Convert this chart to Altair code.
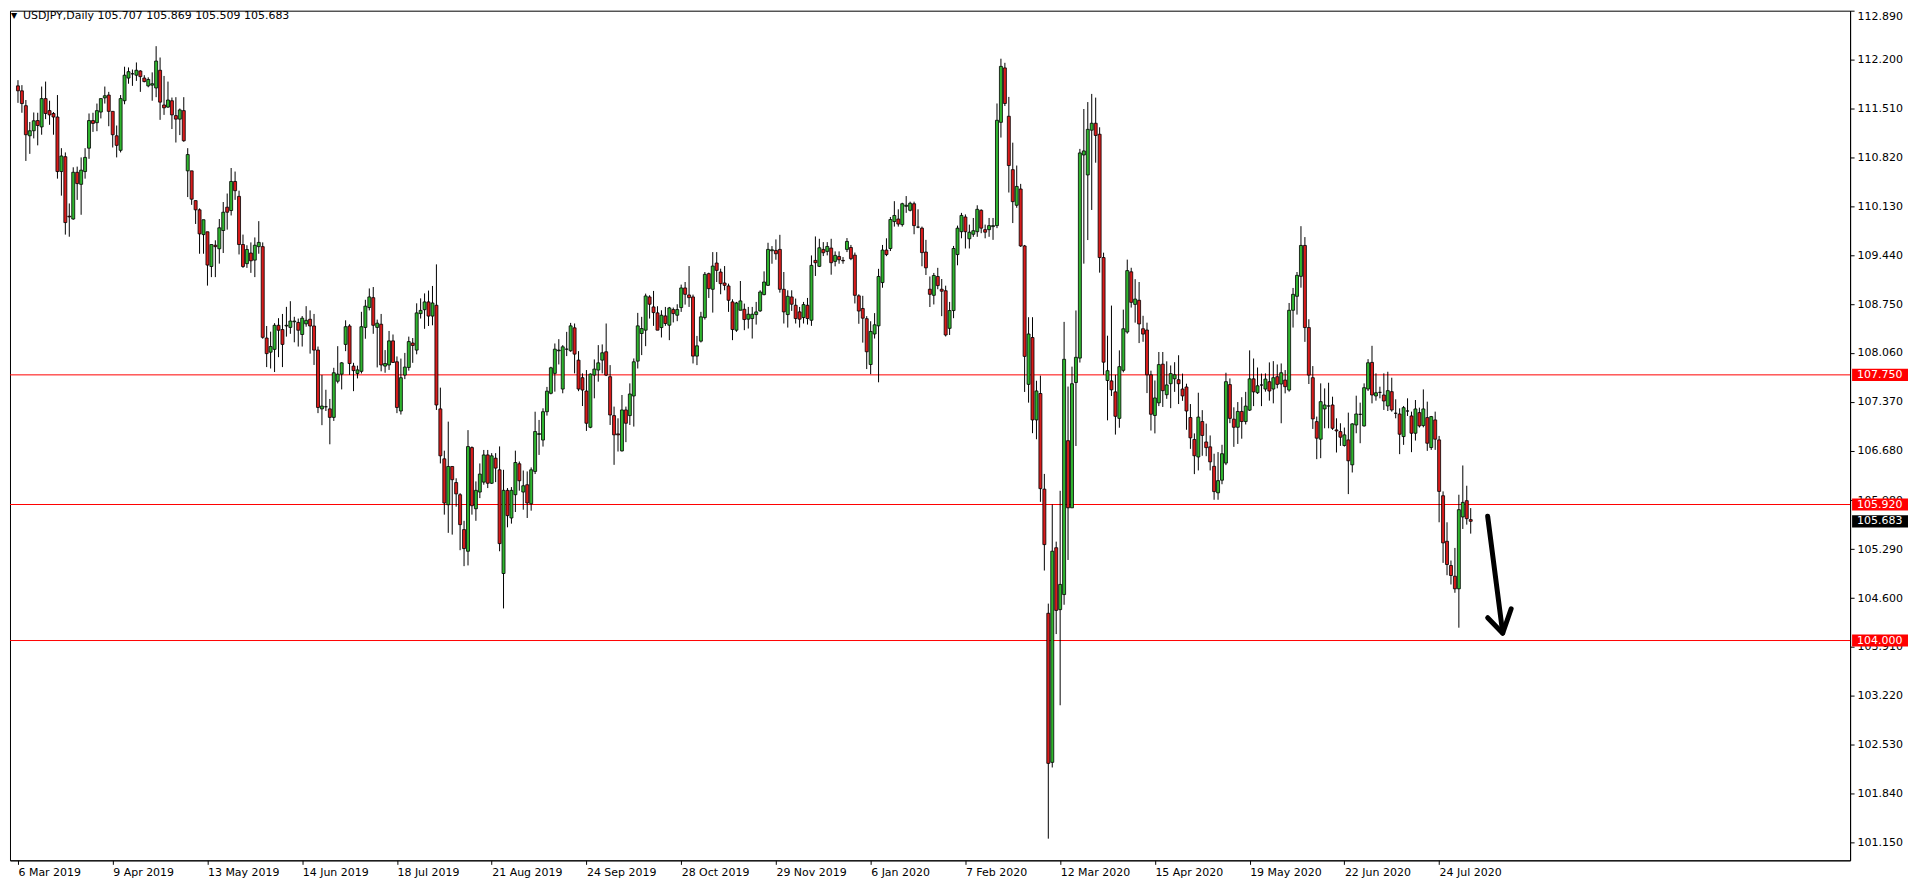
import altair as alt
import pandas as pd
import numpy as np

OPEN = [111.83,111.76,111.55,111.125,111.196,111.34,111.25,111.65,111.48,111.44,111.39,110.62,110.83,109.99,109.95,110.61,110.44,110.62,110.95,111.34,
111.31,111.46,111.66,111.70,111.47,111.125,110.92,111.62,111.94,112.00,111.98,112.04,111.94,111.83,111.84,111.80,112.05,111.56,111.53,111.62,
111.41,111.36,111.48,110.63,110.63,110.21,110.08,109.73,109.77,109.28,109.58,109.53,109.788,110.117,110.07,110.48,110.27,109.59,109.32,109.47,
109.37,109.56,109.56,108.27,108.07,108.11,108.45,108.39,108.44,108.42,108.50,108.49,108.32,108.47,108.535,108.44,108.10,107.27,107.30,107.27,
107.15,107.66,107.76,108.18,108.44,107.874,107.77,107.80,108.42,108.70,108.84,108.42,108.465,107.874,107.89,108.23,107.935,107.24,107.747,107.855,
108.20,108.10,108.615,108.67,108.78,108.58,108.733,107.27,106.565,105.917,106.457,106.23,106.058,105.566,105.26,106.724,105.86,106.096,106.236,106.62,
106.22,106.574,106.41,104.946,106.12,105.73,106.058,106.495,106.096,106.199,105.93,106.387,106.91,106.83,107.23,107.49,107.771,108.09,107.55,108.113,
108.09,108.414,107.958,107.71,107.522,107.01,107.747,107.818,107.958,108.076,107.724,107.175,106.917,106.677,107.255,107.175,107.452,107.944,108.334,108.381,
108.85,108.709,108.625,108.418,108.582,108.451,108.672,108.592,108.70,108.977,108.878,108.85,108.015,108.226,108.559,109.179,108.958,109.329,109.202,109.047,
109.005,108.78,108.381,108.662,108.676,108.536,108.545,108.601,108.653,108.883,109.014,109.502,109.507,109.521,108.958,108.601,108.85,108.733,108.639,108.559,
108.733,108.521,109.366,109.282,109.521,109.493,109.54,109.352,109.422,109.366,109.521,109.548,109.44,108.866,108.687,108.543,107.896,108.327,108.442,109.053,
109.512,109.534,109.914,109.95,109.871,110.13,110.073,110.166,109.836,109.821,109.484,108.959,108.873,109.139,108.959,108.938,108.407,108.658,109.448,109.771,
109.979,109.671,109.735,109.771,110.073,109.8,109.8,109.843,109.857,111.315,112.083,111.401,110.647,110.144,110.374,109.57,107.616,108.277,107.114,107.487,
106.137,104.385,102.28,105.31,104.436,104.649,106.821,105.873,107.642,107.987,110.854,110.572,111.204,111.302,111.147,109.406,107.671,107.665,107.51,107.136,
107.814,108.355,109.205,108.745,108.803,108.401,108.383,107.751,107.177,107.355,107.901,107.47,107.625,107.694,107.682,107.55,107.579,107.148,106.838,106.591,
107.091,106.803,106.734,106.459,106.085,106.263,106.505,107.613,107.125,107.01,107.234,107.091,107.252,107.694,107.498,107.607,107.55,107.653,107.55,107.724,
107.621,107.677,107.536,108.662,108.859,109.141,109.577,108.418,107.71,107.09,106.842,107.269,107.311,107.325,106.973,106.949,106.753,106.832,106.48,107.043,
107.193,107.029,107.55,107.926,107.452,107.503,107.466,107.311,107.513,107.208,107.198,106.879,107.24,107.17,106.926,107.217,107.034,107.147,106.724,107.114,
106.832,106.044,105.401,105.059,104.908,104.73,105.744,105.974,105.707]

HIGH = [111.91,111.84,111.63,111.32,111.454,111.45,111.82,111.89,111.62,111.46,111.70,110.95,110.89,110.17,110.68,110.69,110.82,110.95,111.44,111.45,
111.58,111.65,111.82,111.745,111.47,111.27,111.70,112.10,112.09,112.06,112.16,112.05,111.98,111.95,112.02,112.39,112.23,111.97,111.89,111.665,
111.67,111.51,111.67,110.95,110.63,110.21,110.10,109.94,109.77,109.59,109.65,109.95,110.19,110.31,110.67,110.62,110.35,109.73,109.58,109.62,
109.69,109.92,109.62,108.44,108.36,108.48,108.55,108.61,108.71,108.79,108.57,108.545,108.58,108.72,108.66,108.61,108.15,107.75,107.54,107.41,
107.85,108.155,107.93,108.52,108.465,107.92,107.88,108.64,108.81,108.97,108.99,108.53,108.61,108.10,108.37,108.32,108.01,107.98,108.06,108.29,
108.27,108.76,108.83,108.90,108.94,109.005,109.31,107.57,106.68,107.09,106.457,106.29,106.08,105.69,106.97,106.74,106.246,106.50,106.69,106.69,
106.645,106.645,106.74,106.41,106.152,106.166,106.68,106.527,106.40,106.387,106.443,107.23,107.114,107.278,107.58,107.864,108.193,108.254,108.17,108.357,
108.484,108.475,108.085,107.771,107.818,107.771,107.968,108.17,108.18,108.475,107.888,107.302,107.137,107.466,107.302,107.63,107.982,108.625,108.569,108.897,
108.874,108.935,108.719,108.662,108.709,108.709,108.70,108.747,109.024,109.061,109.286,108.883,108.30,108.64,109.202,109.193,109.483,109.483,109.249,109.286,
109.038,108.817,108.78,109.075,108.756,108.709,108.709,108.78,108.944,109.211,109.615,109.568,109.662,109.727,109.202,108.944,108.944,108.827,108.709,108.78,
108.836,109.436,109.704,109.671,109.624,109.624,109.671,109.493,109.493,109.413,109.681,109.584,109.477,108.888,108.866,108.579,108.507,108.622,109.247,109.584,
109.678,109.979,110.202,110.087,110.18,110.274,110.195,110.195,110.087,109.843,109.656,109.139,109.189,109.261,109.103,109.009,108.78,109.57,109.857,110.037,
110.015,109.871,109.965,110.144,110.087,109.871,109.965,109.965,111.581,112.213,112.155,111.674,111.028,110.705,110.446,109.584,108.564,108.564,107.667,107.739,
106.352,104.521,105.921,105.396,106.114,108.498,107.585,107.866,108.659,110.94,111.503,111.601,111.716,111.664,111.245,109.475,108.303,108.728,107.751,108.096,
108.671,109.377,109.262,109.101,109.061,108.584,108.487,107.809,107.671,108.073,108.073,107.941,107.883,107.929,108.027,107.768,107.625,107.338,106.924,107.498,
107.252,107.062,106.895,106.637,106.66,106.763,107.78,107.7,107.292,107.366,107.435,107.51,108.096,107.981,107.854,107.768,107.771,107.926,107.944,107.897,
107.911,107.818,108.765,108.977,109.202,109.849,109.695,108.535,107.874,107.161,107.63,107.559,107.639,107.442,107.137,107.067,107.006,107.217,107.067,107.456,
107.358,107.63,107.972,108.16,107.771,107.583,107.771,107.794,107.71,107.405,107.278,107.311,107.419,107.231,107.395,107.287,107.545,107.372,107.17,107.231,
106.888,106.105,105.669,105.129,105.307,106.058,106.471,106.185,105.869]

LOW = [111.59,111.45,110.77,110.87,111.088,110.99,111.14,111.36,111.28,111.14,110.52,110.28,109.73,109.70,109.94,110.22,110.01,110.52,110.80,111.18,
111.19,111.37,111.58,111.26,110.96,110.82,110.89,111.57,111.86,111.83,111.90,111.745,111.88,111.81,111.62,111.67,111.35,111.42,111.52,111.22,
111.03,111.135,111.04,110.26,110.15,109.88,109.46,109.46,109.01,109.13,109.13,109.32,109.47,109.80,110.00,110.22,109.45,109.26,109.26,109.19,
109.13,109.46,108.26,107.86,107.84,107.79,108.00,107.86,108.29,108.33,108.21,108.15,108.15,108.43,108.05,107.89,107.21,107.04,107.24,106.77,
107.10,107.63,107.545,108.085,107.75,107.52,107.70,107.77,108.26,108.66,108.33,107.855,107.80,107.78,107.82,107.92,107.21,107.19,107.69,107.81,
107.92,108.04,108.545,108.40,108.44,108.45,107.255,106.50,105.777,105.52,105.495,105.89,105.275,105.05,105.06,105.777,105.69,106.01,106.20,106.152,
106.21,106.236,105.26,104.453,105.598,105.65,105.814,106.115,105.847,105.73,105.833,106.35,106.62,106.738,107.175,107.475,107.513,107.897,107.49,108.015,
108.076,107.771,107.52,107.31,106.959,106.997,107.419,107.654,107.771,107.733,107.043,106.48,106.668,106.668,106.80,107.043,107.02,107.84,108.029,108.155,
108.545,108.442,108.381,108.278,108.442,108.24,108.49,108.508,108.639,108.742,108.709,107.911,107.888,108.207,108.531,108.836,108.629,109.061,108.888,108.944,
108.639,108.24,108.357,108.662,108.381,108.404,108.263,108.46,108.639,108.873,109.005,109.319,109.375,108.911,108.475,108.418,108.653,108.475,108.418,108.475,
108.46,108.442,109.146,109.272,109.427,109.437,109.164,109.282,109.319,109.319,109.483,109.369,108.758,108.471,108.205,107.832,107.76,108.263,107.645,108.98,
109.426,109.498,109.843,109.843,109.843,110.037,110.058,109.735,109.821,109.283,109.16,108.708,108.744,108.959,108.579,108.292,108.313,108.55,109.297,109.678,
109.534,109.534,109.699,109.699,109.75,109.678,109.699,109.656,109.821,111.1,111.545,110.324,109.893,110.109,109.556,107.509,107.358,106.927,106.841,105.958,
104.988,101.203,102.208,104.091,103.086,104.505,105.137,105.873,106.746,107.924,109.32,109.653,110.078,110.745,109.193,107.751,107.108,107.452,106.907,107.004,
107.786,108.332,108.7,108.487,108.199,108.217,107.493,106.964,106.924,107.309,107.297,107.412,107.28,107.51,107.338,107.384,106.975,106.706,106.349,106.401,
106.608,106.602,106.401,105.987,105.987,106.206,106.476,107.068,106.734,106.775,106.849,107.05,107.24,107.309,107.481,107.309,107.513,107.386,107.348,107.56,
107.067,107.489,107.513,108.418,108.601,108.981,108.216,107.621,106.987,106.56,106.574,106.996,106.996,106.973,106.654,106.748,106.738,106.067,106.372,106.926,
106.785,107.02,107.522,107.348,107.386,107.419,107.255,107.24,107.231,107.137,106.631,106.762,107.17,106.659,106.823,107.006,107.01,106.677,106.691,106.691,
105.669,105.096,104.922,104.791,104.674,104.181,105.575,105.636,105.509]

CLOSE = [111.76,111.58,111.14,111.196,111.337,111.27,111.65,111.44,111.42,111.39,110.62,110.84,109.90,109.98,110.61,110.45,110.64,110.82,111.34,111.30,
111.48,111.65,111.69,111.47,111.14,110.99,111.65,111.98,112.03,112.00,112.05,111.96,111.89,111.92,111.86,112.18,111.60,111.52,111.63,111.42,
111.36,111.49,111.055,110.86,110.23,110.08,109.74,109.94,109.30,109.59,109.56,109.826,110.046,110.046,110.48,110.35,109.59,109.28,109.52,109.36,
109.58,109.62,108.28,108.05,108.15,108.45,108.38,108.18,108.45,108.51,108.51,108.38,108.55,108.52,108.44,108.10,107.29,107.31,107.30,107.15,
107.78,107.76,107.92,108.43,107.91,107.81,107.82,108.43,108.72,108.85,108.45,108.48,107.89,107.91,108.23,107.925,107.29,107.71,107.86,108.22,
108.165,108.625,108.66,108.78,108.58,108.765,107.325,106.607,105.941,106.457,106.27,106.07,105.636,105.298,106.738,105.903,106.12,106.35,106.62,106.22,
106.607,106.434,105.368,106.12,105.763,106.12,106.513,106.255,106.185,105.941,106.41,106.95,106.92,107.23,107.52,107.85,108.113,108.10,108.146,108.113,
108.442,108.043,107.55,107.536,107.067,107.761,107.832,107.92,108.062,107.747,107.184,106.903,106.903,107.255,107.067,107.48,107.935,108.442,108.404,108.864,
108.747,108.629,108.381,108.592,108.475,108.695,108.615,108.672,108.977,108.887,108.84,108.015,108.16,108.569,109.169,108.967,109.286,109.225,109.038,109.014,
108.803,108.39,108.765,108.794,108.531,108.606,108.606,108.639,108.92,109.061,109.521,109.516,109.46,108.958,108.639,108.859,108.747,108.545,108.536,108.742,
108.545,109.296,109.333,109.544,109.474,109.563,109.333,109.437,109.375,109.36,109.634,109.39,108.873,108.651,108.55,108.076,108.363,108.457,109.139,109.512,
109.448,109.943,110.0,109.879,110.166,110.144,110.173,109.857,109.836,109.476,109.261,108.887,109.153,109.01,108.931,108.313,108.658,109.534,109.821,110.001,
109.771,109.764,109.785,110.087,109.821,109.764,109.857,109.857,111.344,112.105,111.581,110.705,110.195,110.41,109.57,108.011,108.327,107.114,107.523,106.144,
105.354,102.266,105.261,104.425,104.792,107.97,105.873,107.625,107.998,110.883,110.911,111.216,111.302,111.13,109.406,107.929,107.809,107.539,107.165,107.866,
108.401,109.222,108.774,108.82,108.469,108.326,107.751,107.194,107.424,107.895,107.527,107.608,107.768,107.751,107.625,107.453,107.24,106.861,106.608,107.154,
106.895,106.723,106.522,106.102,106.257,106.637,107.654,107.136,107.01,107.234,107.091,107.309,107.694,107.51,107.596,107.607,107.691,107.522,107.71,107.616,
107.78,107.583,108.662,108.887,109.155,109.577,108.418,107.747,107.128,106.856,107.372,107.325,107.311,106.996,106.959,106.87,106.903,106.537,107.058,107.198,
107.193,107.569,107.921,107.466,107.498,107.503,107.381,107.527,107.255,107.208,106.912,107.287,107.24,106.926,107.269,107.029,107.269,106.785,107.161,106.842,
106.105,105.378,105.073,104.918,104.73,105.847,105.95,105.72,105.683]

DATE_LABELS = ["6 Mar 2019", "9 Apr 2019", "13 May 2019", "14 Jun 2019", "18 Jul 2019", "21 Aug 2019",
               "24 Sep 2019", "28 Oct 2019", "29 Nov 2019", "6 Jan 2020", "7 Feb 2020", "12 Mar 2020",
               "15 Apr 2020", "19 May 2020", "22 Jun 2020", "24 Jul 2020"]
DATE_TICKS = [24 * k for k in range(len(DATE_LABELS))]
Y_TICKS = [112.890, 112.200, 111.510, 110.820, 110.130, 109.440, 108.750, 108.060, 107.370, 106.680,
           105.980, 105.290, 104.600, 103.910, 103.220, 102.530, 101.840, 101.150]
LEVELS = [107.750, 105.920, 104.000]
LAST_PRICE = 105.683
HEADER = "USDJPY,Daily  105.707 105.869 105.509 105.683"
ARROW_X = [372.3, 376.1, 372.3, 376.1, 378.25]
ARROW_Y = [105.753, 104.11, 104.322, 104.102, 104.448]
ARROW_SEG = [0, 0, 1, 1, 1]

GREEN = "#2fb52f"
RED = "#d81b1b"
FONT = "DejaVu Sans"

n = len(OPEN)
df = pd.DataFrame({"i": np.arange(n), "open": OPEN, "high": HIGH, "low": LOW, "close": CLOSE})
df["dir"] = np.where(df["close"] >= df["open"], "up", "down")

xs = alt.Scale(domain=[-0.755, 462.84], nice=False, zero=False)
ys = alt.Scale(domain=[100.897, 112.891], nice=False, zero=False)

label_expr = "[" + ",".join("'%s'" % s for s in DATE_LABELS) + "][round(datum.value/24)]"

x_axis = alt.Axis(values=DATE_TICKS, labelExpr=label_expr, grid=False, tickSize=4, labelPadding=2,
                  labelAlign="left", labelFont=FONT, labelFontSize=11, labelColor="black",
                  domainColor="black", tickColor="black", title=None, labelOverlap=False,
                  labelFlush=False)
y_axis = alt.Axis(orient="right", values=Y_TICKS, format=".3f", grid=False, tickSize=4, labelPadding=3,
                  labelFont=FONT, labelFontSize=11, labelColor="black", domainColor="black",
                  tickColor="black", title=None, labelOverlap=False, labelFlush=False,
                  labelBaseline={"condition": {"test": "datum.value > 112.85", "value": "top"},
                                 "value": "middle"})


def X(field):
    return alt.X(field, scale=xs, axis=x_axis, title=None)


def Y(field):
    return alt.Y(field, scale=ys, axis=y_axis, title=None)


base = alt.Chart(df)

levels = alt.Chart(pd.DataFrame({"p": LEVELS})).mark_rule(color="#ff0000", strokeWidth=1).encode(
    y=Y("p:Q"))

wicks = base.mark_rule(color="black", strokeWidth=1).encode(
    x=X("i:Q"), y=Y("low:Q"), y2="high:Q")

bodies = base.mark_bar(size=3, stroke="black", strokeWidth=0.8).encode(
    x=X("i:Q"), y=Y("open:Q"), y2="close:Q",
    color=alt.Color("dir:N", scale=alt.Scale(domain=["up", "down"], range=[GREEN, RED]), legend=None))

arrow = alt.Chart(pd.DataFrame({"ax": ARROW_X, "ay": ARROW_Y, "seg": ARROW_SEG, "k": range(len(ARROW_X))})).mark_line(
    color="black", strokeWidth=5, strokeCap="round", strokeJoin="round").encode(
    x=X("ax:Q"), y=Y("ay:Q"), detail="seg:N", order="k:Q")

lab_df = pd.DataFrame({"p": LEVELS + [LAST_PRICE],
                       "bg": ["#ff0000", "#ff0000", "#ff0000", "#000000"]})
lab_df["t"] = lab_df["p"].map(lambda v: "%.3f" % v)

boxes = alt.Chart(lab_df).transform_calculate(
    top="datum.p + 0.086", bot="datum.p - 0.086").mark_rect().encode(
    x=alt.value(1845), x2=alt.value(1901),
    y=Y("top:Q"), y2="bot:Q",
    color=alt.Color("bg:N", scale=None))

box_text = alt.Chart(lab_df).mark_text(align="left", baseline="middle", color="white",
                                       font=FONT, fontSize=11).encode(
    x=alt.value(1850), y=Y("p:Q"), text="t:N")

hdr = pd.DataFrame({"t": [HEADER]})
header = alt.Chart(hdr).mark_text(align="left", baseline="middle", font=FONT, fontSize=11,
                                  color="black").encode(x=alt.value(13), y=alt.value(5), text="t:N")
tri = alt.Chart(pd.DataFrame({"t": ["\u25bc"]})).mark_text(align="left", baseline="middle", font=FONT,
                                                         fontSize=8, color="black").encode(
    x=alt.value(1), y=alt.value(5), text="t:N")

chart = alt.layer(levels, wicks, bodies, arrow, boxes, box_text, header, tri).properties(
    width=1843, height=851,
    padding={"left": 1, "top": 1, "right": 0, "bottom": 0},
    background="white",
).configure_view(stroke="black", strokeWidth=1)

chart.save("out.html", embed_options={"renderer": "svg", "actions": False})
